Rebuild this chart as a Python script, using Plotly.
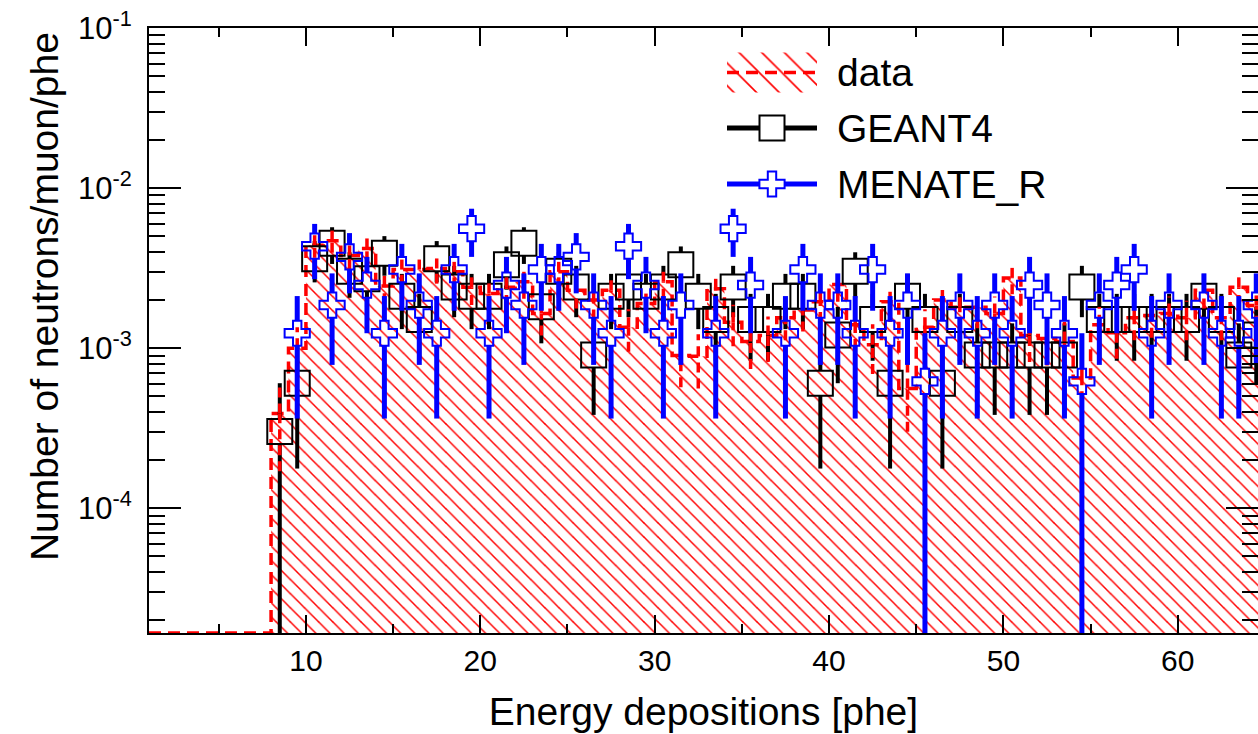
import numpy as np
import plotly.graph_objects as go

# ---------------- data ----------------
bin_edges = list(range(1, 66))                 # 1 phe wide bins, 1 ... 65
bin_centers = [e + 0.5 for e in bin_edges[:-1]]

# measured data (normalised), neutrons/muon/phe
data_vals = [0, 0, 0, 0, 0, 0, 0,
             3.9e-4, 1.0e-3, 4.4e-3, 4.7e-3, 3.8e-3, 4.2e-3, 2.45e-3, 3.1e-3, 3.1e-3, 3.15e-3,
             3.0e-3, 2.4e-3, 2.2e-3, 2.4e-3, 2.6e-3, 1.65e-3, 3.0e-3, 2.3e-3, 2.0e-3, 2.3e-3,
             1.35e-3, 1.9e-3, 2.6e-3, 9.0e-4, 8.9e-4, 2.35e-3, 1.45e-3, 1.1e-3, 1.2e-3, 1.55e-3,
             1.73e-3, 1.95e-3, 2.5e-3, 1.4e-3, 1.05e-3, 1.95e-3, 5.6e-4, 1.35e-3, 2.0e-3, 1.8e-3,
             1.8e-3, 1.65e-3, 2.75e-3, 1.2e-3, 1.15e-3, 1.1e-3, 6.5e-4, 1.4e-3, 1.25e-3, 1.55e-3,
             1.6e-3, 1.65e-3, 1.55e-3, 2.3e-3, 1.55e-3, 2.4e-3, 1.85e-3]
data_errs = [0, 0, 0, 0, 0, 0, 0,
             2.2e-4, 3.5e-4, 7.3e-4, 7.5e-4, 6.8e-4, 7.1e-4, 5.4e-4, 6.1e-4, 6.1e-4, 6.2e-4,
             6.0e-4, 5.4e-4, 5.1e-4, 5.4e-4, 5.6e-4, 4.5e-4, 6.0e-4, 5.3e-4, 4.9e-4, 5.3e-4,
             4.0e-4, 4.8e-4, 5.6e-4, 3.3e-4, 3.3e-4, 5.3e-4, 4.2e-4, 3.6e-4, 3.8e-4, 4.3e-4,
             4.6e-4, 4.9e-4, 5.5e-4, 4.1e-4, 3.6e-4, 4.9e-4, 2.6e-4, 4.0e-4, 4.9e-4, 4.7e-4,
             4.7e-4, 4.5e-4, 5.8e-4, 3.8e-4, 3.7e-4, 3.6e-4, 2.8e-4, 4.1e-4, 3.9e-4, 4.3e-4,
             4.4e-4, 4.5e-4, 4.3e-4, 5.3e-4, 4.3e-4, 5.4e-4, 4.7e-4]

# simulated entries per bin and weight of one entry
g4_weight = 3.02e-4
g4_counts = [0, 0, 0, 0, 0, 0, 0,
             1, 2, 12, 15, 10, 9, 13, 7, 5, 12, 8, 7, 7, 11, 15, 6, 10, 8, 3, 7, 8, 7, 8,
             11, 7, 5, 8, 5, 5, 7, 7, 2, 4, 10, 5, 2, 7, 5, 2, 5, 3, 3, 3, 3, 3, 3, 8,
             5, 5, 5, 5, 5, 5, 7, 5, 3, 4]
menate_weight = 6.2e-4
menate_counts = [0, 0, 0, 0, 0, 0, 0, 0,
                 2, 7, 3, 6, 4, 2, 5, 3, 2, 5, 9, 2, 4, 3, 5, 5, 6, 3, 2, 7, 4, 2, 3, 0,
                 2, 9, 4, 0, 2, 5, 3, 3, 2, 5, 2, 3, 1, 2, 3, 2, 3, 2, 4, 3, 2, 1, 3, 4,
                 5, 2, 3, 0, 3, 2, 2, 3]

assert len(data_vals) == len(data_errs) == len(g4_counts) == len(menate_counts) == len(bin_centers)

legend_names = ["data", "GEANT4", "MENATE_R"]
y_tick_vals = [1e-4, 1e-3, 1e-2, 1e-1]
y_tick_text = ["10<sup>-4</sup>", "10<sup>-3</sup>", "10<sup>-2</sup>", "10<sup>-1</sup>"]
x_tick_vals = [10, 20, 30, 40, 50, 60]

# ---------------- styling ----------------
X_RANGE = [1, 64.6]
Y_RANGE = [-4.78, -0.999]        # log10
FONT = "Liberation Sans, Arial, Helvetica, sans-serif"
RED, BLUE = "#ff0000", "#0000ff"
W, H = 1258, 734
M_L, M_R, M_T, M_B = 149, 0, 28, 101
PW, PH = W - M_L - M_R, H - M_T - M_B
y_floor = 10 ** Y_RANGE[0]
px_per_decade = PH / (Y_RANGE[1] - Y_RANGE[0])
marker_gap = 10 ** (12.5 / px_per_decade)   # error bars stop at the marker edge
ZERO_LOW = 1e-9
HATCH = dict(shape="\\", fgcolor=RED, fgopacity=1, bgcolor="rgba(0,0,0,0)", size=10, solidity=0.15)

fig = go.Figure()

# data: hatched step histogram with dashed outline
step_y = [max(v, y_floor) for v in data_vals] + [max(data_vals[-1], y_floor)]
fig.add_trace(go.Scatter(x=[bin_edges[0], bin_edges[-1]], y=[y_floor, y_floor],
                         mode="lines", line=dict(width=0), hoverinfo="skip"))
fig.add_trace(go.Scatter(
    x=bin_edges, y=step_y, mode="lines",
    line=dict(shape="hv", color=RED, width=3.5, dash="12px,7px"),
    fill="tonexty", fillcolor="rgba(0,0,0,0)", fillpattern=HATCH, name=legend_names[0]))


def err_segments(centers, vals, errs, gap):
    xs, ys = [], []
    for c, v, e in zip(centers, vals, errs):
        if v <= 0:
            continue
        hi = v + e
        lo = v - e if v - e > 0 else ZERO_LOW
        if hi > v * gap:
            xs += [c, c, None]
            ys += [v * gap, hi, None]
        if lo < v / gap:
            xs += [c, c, None]
            ys += [lo, v / gap, None]
    return xs, ys


def points(centers, vals):
    xs, ys = [], []
    for c, v in zip(centers, vals):
        if v > 0:
            xs.append(c)
            ys.append(v)
    return xs, ys


g4_vals = [n * g4_weight for n in g4_counts]
g4_errs = [np.sqrt(n) * g4_weight for n in g4_counts]
me_vals = [n * menate_weight for n in menate_counts]
me_errs = [np.sqrt(n) * menate_weight for n in menate_counts]

SQUARE = dict(symbol="square-open", size=25, color="black", line=dict(width=2))
CROSS = dict(symbol="cross-open", size=21, color=BLUE, line=dict(width=2))

# GEANT4
ex, ey = err_segments(bin_centers, g4_vals, g4_errs, marker_gap)
fig.add_trace(go.Scatter(x=ex, y=ey, mode="lines", line=dict(color="black", width=4), hoverinfo="skip"))
px_, py_ = points(bin_centers, g4_vals)
fig.add_trace(go.Scatter(x=px_, y=py_, mode="markers", name=legend_names[1], marker=SQUARE))

# data error bars (dashed)
dx, dy = err_segments(bin_centers, data_vals, data_errs, 1.0)
fig.add_trace(go.Scatter(x=dx, y=dy, mode="lines", line=dict(color=RED, width=3.5, dash="10px,6px"),
                         hoverinfo="skip"))

# MENATE_R
ex, ey = err_segments(bin_centers, me_vals, me_errs, marker_gap)
fig.add_trace(go.Scatter(x=ex, y=ey, mode="lines", line=dict(color=BLUE, width=5), hoverinfo="skip"))
px_, py_ = points(bin_centers, me_vals)
fig.add_trace(go.Scatter(x=px_, y=py_, mode="markers", name=legend_names[2], marker=CROSS))

# ---------------- legend (drawn on a hidden overlay axis in plot-area fractions) ----------------
def fx(px):
    return (px - M_L) / PW


def fy(py):
    return (M_T + PH - py) / PH


LEG_X0, LEG_X1, LEG_TX = 727, 817, 835
rows = [72.5, 128, 184]
lx = [fx(LEG_X0), fx(LEG_X1)]
# data: hatched box + dashed line
fig.add_trace(go.Scatter(x=[lx[0], lx[1], lx[1], lx[0], lx[0]],
                         y=[fy(rows[0] - 20), fy(rows[0] - 20), fy(rows[0] + 20), fy(rows[0] + 20), fy(rows[0] - 20)],
                         mode="lines", line=dict(width=0), fill="toself", fillcolor="rgba(0,0,0,0)",
                         fillpattern=dict(HATCH, size=16, solidity=0.1), xaxis="x2", yaxis="y2", hoverinfo="skip"))
fig.add_trace(go.Scatter(x=lx, y=[fy(rows[0])] * 2, mode="lines",
                         line=dict(color=RED, width=3.5, dash="12px,7px"), xaxis="x2", yaxis="y2", hoverinfo="skip"))
# GEANT4
fig.add_trace(go.Scatter(x=lx, y=[fy(rows[1])] * 2, mode="lines", line=dict(color="black", width=5),
                         xaxis="x2", yaxis="y2", hoverinfo="skip"))
fig.add_trace(go.Scatter(x=[sum(lx) / 2], y=[fy(rows[1])], mode="markers",
                         marker=dict(SQUARE, symbol="square", color="white", line=dict(width=2, color="black")),
                         xaxis="x2", yaxis="y2", hoverinfo="skip"))
# MENATE_R
fig.add_trace(go.Scatter(x=lx, y=[fy(rows[2])] * 2, mode="lines", line=dict(color=BLUE, width=5),
                         xaxis="x2", yaxis="y2", hoverinfo="skip"))
fig.add_trace(go.Scatter(x=[sum(lx) / 2], y=[fy(rows[2])], mode="markers",
                         marker=dict(CROSS, symbol="cross", color="white", line=dict(width=2, color=BLUE)),
                         xaxis="x2", yaxis="y2", hoverinfo="skip"))
for name, ry in zip(legend_names, rows):
    fig.add_annotation(text=name, showarrow=False, xref="paper", yref="paper",
                       x=fx(LEG_TX), y=fy(ry), xanchor="left", yanchor="middle",
                       font=dict(family=FONT, size=39, color="black"))

# ---------------- axes ----------------
axis_common = dict(showline=True, linecolor="black", linewidth=2, mirror="allticks",
                   ticks="inside", tickcolor="black", tickwidth=1.5, showgrid=False, zeroline=False,
                   automargin=False)

xaxis = dict(range=X_RANGE, tickvals=x_tick_vals, ticklen=18,
             minor=dict(ticks="inside", dtick=5, tick0=0, ticklen=9, tickcolor="black", tickwidth=1.5),
             ticklabelstandoff=0, tickfont=dict(family=FONT, size=30, color="black"),
             title=dict(text="Energy depositions [phe]", font=dict(family=FONT, size=39, color="black"),
                        standoff=22),
             **axis_common)
yaxis = dict(type="log", range=Y_RANGE, tickvals=y_tick_vals, ticktext=y_tick_text, ticklen=32,
             minor=dict(ticks="inside", dtick="D1", ticklen=16, tickcolor="black", tickwidth=1.5),
             ticklabelstandoff=9, tickfont=dict(family=FONT, size=31, color="black"),
             **axis_common)

fig.add_annotation(text="Number of neutrons/muon/phe", textangle=-90, showarrow=False,
                   xref="paper", yref="paper", x=-0.094, y=0.997, xanchor="center", yanchor="top",
                   font=dict(family=FONT, size=39, color="black"))

fig.update_layout(
    width=W, height=H,
    margin=dict(l=M_L, r=M_R, t=M_T, b=M_B),
    paper_bgcolor="white", plot_bgcolor="white",
    font=dict(family=FONT, color="black"),
    showlegend=False,
    xaxis=xaxis, yaxis=yaxis,
    xaxis2=dict(overlaying="x", range=[0, 1], visible=False, fixedrange=True),
    yaxis2=dict(overlaying="y", range=[0, 1], visible=False, fixedrange=True),
)

fig.write_html("out.html")
